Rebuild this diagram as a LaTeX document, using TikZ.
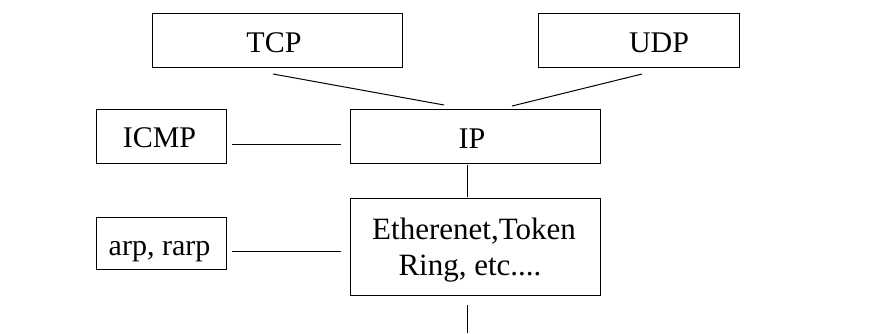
\documentclass[tikz,border=0pt]{standalone}
\usepackage{fontspec}
\setmainfont{Liberation Serif}
\begin{document}
\begin{tikzpicture}[x=1pt,y=-1pt,
  box/.style={draw=black,line width=1pt,rectangle,inner sep=0pt},
  lbl/.style={inner sep=0pt,anchor=base,font=\fontsize{30}{36}\selectfont},
  conn/.style={draw=black,line width=1pt}]
\useasboundingbox (0,0) rectangle (894,333);
% boxes
\node[box,minimum width=250,minimum height=54] (tcp) at (277,40) {};
\node[box,minimum width=201,minimum height=54] (udp) at (638.5,40) {};
\node[box,minimum width=130,minimum height=54] (icmp) at (161,136) {};
\node[box,minimum width=250,minimum height=54] (ip) at (475,136) {};
\node[box,minimum width=130,minimum height=52] (arp) at (161,243) {};
\node[box,minimum width=250,minimum height=97] (eth) at (475,246.5) {};
% labels
\node[lbl] (tcpt) at (274,52) {TCP};
\node[lbl] (udpt) at (659,52) {UDP};
\node[lbl] (icmpt) at (159.5,147) {ICMP};
\node[lbl] (ipt) at (472,148) {IP};
\node[lbl,font=\fontsize{31}{37}\selectfont] (etht1) at (474,239) {Etherenet,Token};
\node[lbl,font=\fontsize{31}{37}\selectfont] (etht2) at (470,275) {Ring, etc....};
\node[lbl] (arpt) at (159.5,255) {arp, rarp};
% connector end points
\coordinate (tcpa) at (273,74);
\coordinate (tcpb) at (444,105);
\coordinate (udpa) at (642,74);
\coordinate (udpb) at (512,106);
\coordinate (icmpa) at (232,144);
\coordinate (icmpb) at (341,144);
\coordinate (arpa) at (232,251);
\coordinate (arpb) at (341,251);
\coordinate (ipa) at (467,165);
\coordinate (ipb) at (467,197);
\coordinate (etha) at (467,305);
\coordinate (ethb) at (467,333);
% connectors
\draw[conn] (tcpa) -- (tcpb);
\draw[conn] (udpa) -- (udpb);
\draw[conn] (icmpa) -- (icmpb);
\draw[conn] (arpa) -- (arpb);
\draw[conn] (ipa) -- (ipb);
\draw[conn] (etha) -- (ethb);
\end{tikzpicture}
\end{document}
